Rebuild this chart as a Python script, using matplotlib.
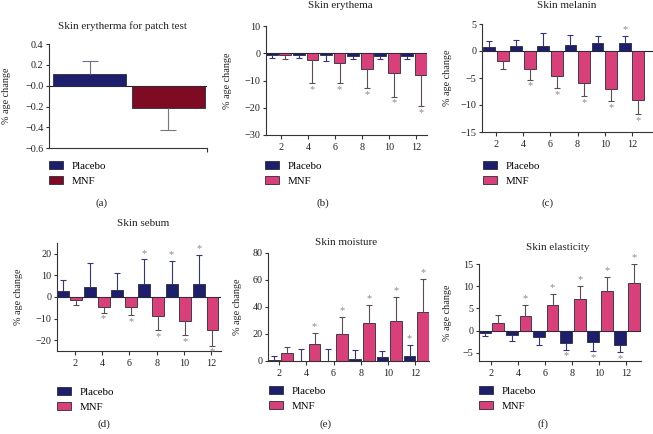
import numpy as np
import matplotlib
matplotlib.use("Agg")
import matplotlib.pyplot as plt
from matplotlib.patches import Patch

plt.rcParams['font.family'] = ['Liberation Serif', 'DejaVu Serif']
plt.rcParams['axes.unicode_minus'] = True

# ---------------- data ----------------
weeks = [2, 4, 6, 8, 10, 12]
groups = ['Placebo', 'MNF']

patch_mean = [0.11, -0.21]
patch_sd = [0.13, 0.21]

erythema_placebo = [-0.8, -0.7, -0.8, -0.9, -0.9, -0.9]
erythema_placebo_sd = [1.0, 1.1, 2.0, 1.1, 1.1, 1.1]
erythema_mnf = [-0.5, -2.6, -3.6, -5.8, -7.1, -8.1]
erythema_mnf_sd = [1.5, 8.4, 7.3, 7.0, 8.8, 11.4]
erythema_placebo_sig = [0, 0, 0, 0, 0, 0]
erythema_mnf_sig = [0, 1, 1, 1, 1, 1]

melanin_placebo = [0.8, 1.0, 0.85, 1.1, 1.5, 1.5]
melanin_placebo_sd = [1.0, 1.0, 2.55, 1.9, 1.3, 1.3]
melanin_mnf = [-1.8, -3.25, -4.6, -6.0, -7.1, -9.1]
melanin_mnf_sd = [1.6, 2.05, 2.3, 2.4, 2.2, 2.6]
melanin_placebo_sig = [0, 0, 0, 0, 0, 1]
melanin_mnf_sig = [0, 1, 1, 1, 1, 1]

sebum_placebo = [2.6, 4.7, 3.3, 6.0, 5.8, 6.0]
sebum_placebo_sd = [5.2, 11.1, 7.6, 11.4, 11.0, 13.4]
sebum_mnf = [-1.5, -4.4, -4.4, -8.9, -11.1, -15.4]
sebum_mnf_sd = [2.0, 2.9, 4.1, 6.5, 6.5, 7.2]
sebum_placebo_sig = [0, 0, 0, 1, 1, 1]
sebum_mnf_sig = [0, 1, 1, 1, 1, 1]

moisture_placebo = [0.5, 0.0, 0.0, 1.2, 3.0, 3.8]
moisture_placebo_sd = [2.7, 8.5, 8.5, 6.8, 4.2, 7.9]
moisture_mnf = [5.8, 12.1, 20.0, 27.8, 29.8, 36.3]
moisture_mnf_sd = [4.2, 8.5, 12.3, 13.7, 17.5, 24.4]
moisture_placebo_sig = [0, 0, 0, 0, 0, 1]
moisture_mnf_sig = [0, 1, 1, 1, 1, 1]

elasticity_placebo = [-0.45, -0.9, -1.4, -2.7, -2.6, -3.2]
elasticity_placebo_sd = [0.75, 1.5, 1.9, 1.6, 2.0, 1.7]
elasticity_mnf = [1.6, 3.2, 5.7, 7.2, 8.9, 10.8]
elasticity_mnf_sd = [1.9, 2.5, 2.6, 2.9, 3.1, 4.2]
elasticity_placebo_sig = [0, 0, 0, 1, 1, 1]
elasticity_mnf_sig = [0, 1, 1, 1, 1, 1]

# ---------------- style ----------------
NAVY = '#1d1f6c'
PINK = '#d93f79'
MAROON = '#7e0a24'
EDGE = '#2a2a3a'
SPINE = '#333333'
STAR = '#8a8a8a'
FS_TITLE = 8
FS_TICK = 7.3
FS_LAB = 7.3
FS_LEG = 7.8

W, H = 653, 434
fig = plt.figure(figsize=(W / 100, H / 100), dpi=100)


def add_ax(l, r, t, b):
    return fig.add_axes([l / W, 1 - b / H, (r - l) / W, (b - t) / H])


def style(ax, ylabel_dx, width_px):
    for s in ['top', 'right']:
        ax.spines[s].set_visible(False)
    for s in ['left', 'bottom']:
        ax.spines[s].set_color(SPINE)
        ax.spines[s].set_linewidth(0.8)
    ax.tick_params(axis='y', direction='out', length=2.5, width=0.8, color=SPINE,
                   labelsize=FS_TICK, pad=1.5, labelcolor='#222222')
    ax.tick_params(axis='x', direction='out', length=3, width=0.8, color=SPINE,
                   labelsize=FS_TICK, pad=3, labelcolor='#222222')
    ax.set_ylabel('% age change', fontsize=FS_LAB, color='#222222')
    ax.yaxis.set_label_coords(-ylabel_dx / width_px, 0.5)


def one_sided(ax, xs, means, sds, sig, color, capsize, off=4.5, z=3):
    for x, m, s, g in zip(xs, means, sds, sig):
        d = 1 if m >= 0 else -1
        end = m + d * s
        ax.vlines(x, m, end, color=color, lw=0.8, zorder=z)
        ax.plot([x], [end], marker='_', markersize=capsize, mew=0.8,
                color=color, zorder=z)
        if g:
            ax.annotate('*', (x, end), xytext=(0, d * off),
                        textcoords='offset points', ha='center', va='center',
                        fontsize=7.5, color=STAR, zorder=z)


def legend(ax, x, y, colors):
    handles = [Patch(facecolor=c, edgecolor=EDGE, lw=0.6) for c in colors]
    ax.legend(handles, groups, loc='upper left',
              bbox_to_anchor=(x / W, 1 - y / H), bbox_transform=fig.transFigure,
              frameon=False, fontsize=FS_LEG, handlelength=1.25,
              handleheight=0.75, handletextpad=0.85, labelspacing=0.5,
              borderpad=0, borderaxespad=0)


def ftext(x, y, s, size=FS_TITLE):
    fig.text(x / W, 1 - y / H, s, ha='center', va='center', fontsize=size,
             color='#222222')


def grouped(ax, pv, ps, mv, ms, psig, msig, g, w, xlim, ylim, yticks):
    x = np.array(weeks, dtype=float)
    xp = x + g - 0.5
    xm = x + g + 0.5
    ax.bar(xp, pv, w, color=NAVY, edgecolor=EDGE, lw=0.6, zorder=2)
    ax.bar(xm, mv, w, color=PINK, edgecolor=EDGE, lw=0.6, zorder=2)
    one_sided(ax, xp, pv, ps, psig, '#34347a', 4.5)
    one_sided(ax, xm, mv, ms, msig, '#5a4e52', 4.5)
    ax.set_xlim(*xlim)
    ax.set_ylim(*ylim)
    ax.set_xticks(weeks)
    ax.set_xticklabels([str(v) for v in weeks])
    ax.set_yticks(yticks)
    ax.spines['bottom'].set_position(('data', ylim[0]))


# ---------------- (a) ----------------
axa = add_ax(49.3, 207, 44, 148.3)
xa = np.arange(len(groups))
axa.bar(xa, patch_mean, 0.92, color=[NAVY, MAROON], edgecolor=EDGE, lw=0.6, zorder=2)
one_sided(axa, xa[:1], patch_mean[:1], patch_sd[:1], [0], '#6e6e90', 12)
one_sided(axa, xa[1:], patch_mean[1:], patch_sd[1:], [0], '#777777', 12)
axa.set_xlim(-0.51, 1.49)
axa.set_ylim(-0.6, 0.4)
axa.set_yticks([-0.6, -0.4, -0.2, 0.0, 0.2, 0.4])
axa.set_yticklabels(['\u22120.6', '\u22120.4', '\u22120.2', '\u22120.0', '0.2', '0.4'])
axa.set_xticks([1.49])
axa.set_xticklabels([''])
axa.axhline(0, color='#222222', lw=0.8, zorder=1)
style(axa, 38.5, 158)
ftext(122, 26, 'Skin erytherma for patch test')
legend(axa, 49, 161, [NAVY, MAROON])
ftext(102, 203, '(a)')

# ---------------- (b) ----------------
axb = add_ax(266, 427, 26, 135)
grouped(axb, erythema_placebo, erythema_placebo_sd, erythema_mnf, erythema_mnf_sd,
        erythema_placebo_sig, erythema_mnf_sig, -0.17, 0.87, (0.905, 12.78),
        (-30, 10), [-30, -20, -10, 0, 10])
axb.axhline(0, color='#222222', lw=0.8, zorder=1)
style(axb, 34.5, 161)
ftext(340, 6, 'Skin erythema')
legend(axb, 265, 161, [NAVY, PINK])
ftext(323, 203, '(b)')

# ---------------- (c) ----------------
axc = add_ax(482, 653, 24, 132)
grouped(axc, melanin_placebo, melanin_placebo_sd, melanin_mnf, melanin_mnf_sd,
        melanin_placebo_sig, melanin_mnf_sig, -0.03, 0.87, (0.95, 13.56),
        (-15, 5), [-15, -10, -5, 0, 5])
axc.axhline(0, color='#222222', lw=0.8, zorder=1)
style(axc, 30.5, 171)
ftext(567, 6, 'Skin melanin')
legend(axc, 483, 161, [NAVY, PINK])
ftext(548, 203, '(c)')

# ---------------- (d) ----------------
axd = add_ax(57, 221, 243, 351)
grouped(axd, sebum_placebo, sebum_placebo_sd, sebum_mnf, sebum_mnf_sd,
        sebum_placebo_sig, sebum_mnf_sig, -0.4, 0.87, (0.675, 12.73),
        (-25, 25), [-20, -10, 0, 10, 20])
axd.axhline(0, color='#222222', lw=0.8, zorder=1)
style(axd, 34.5, 164)
ftext(143, 224, 'Skin sebum')
legend(axd, 57, 387, [NAVY, PINK])
ftext(104, 424, '(d)')

# ---------------- (e) ----------------
axe = add_ax(268, 429, 253, 360.7)
grouped(axe, moisture_placebo, moisture_placebo_sd, moisture_mnf, moisture_mnf_sd,
        moisture_placebo_sig, moisture_mnf_sig, 0.1, 0.87, (1.175, 13.03),
        (0, 80), [0, 20, 40, 60, 80])
style(axe, 25.5, 161)
ftext(346, 243, 'Skin moisture')
legend(axe, 269, 386, [NAVY, PINK])
ftext(326, 424, '(e)')

# ---------------- (f) ----------------
axf = add_ax(479, 641, 264, 360.7)
grouped(axf, elasticity_placebo, elasticity_placebo_sd, elasticity_mnf, elasticity_mnf_sd,
        elasticity_placebo_sig, elasticity_mnf_sig, 0.05, 0.87, (1.125, 13.07),
        (-6.8, 15), [-5, 0, 5, 10, 15])
axf.axhline(0, color='#222222', lw=0.8, zorder=1)
style(axf, 26.5, 162)
ftext(558, 248, 'Skin elasticity')
legend(axf, 479, 386, [NAVY, PINK])
ftext(543, 424, '(f)')

fig.savefig('out.png', dpi=100)
